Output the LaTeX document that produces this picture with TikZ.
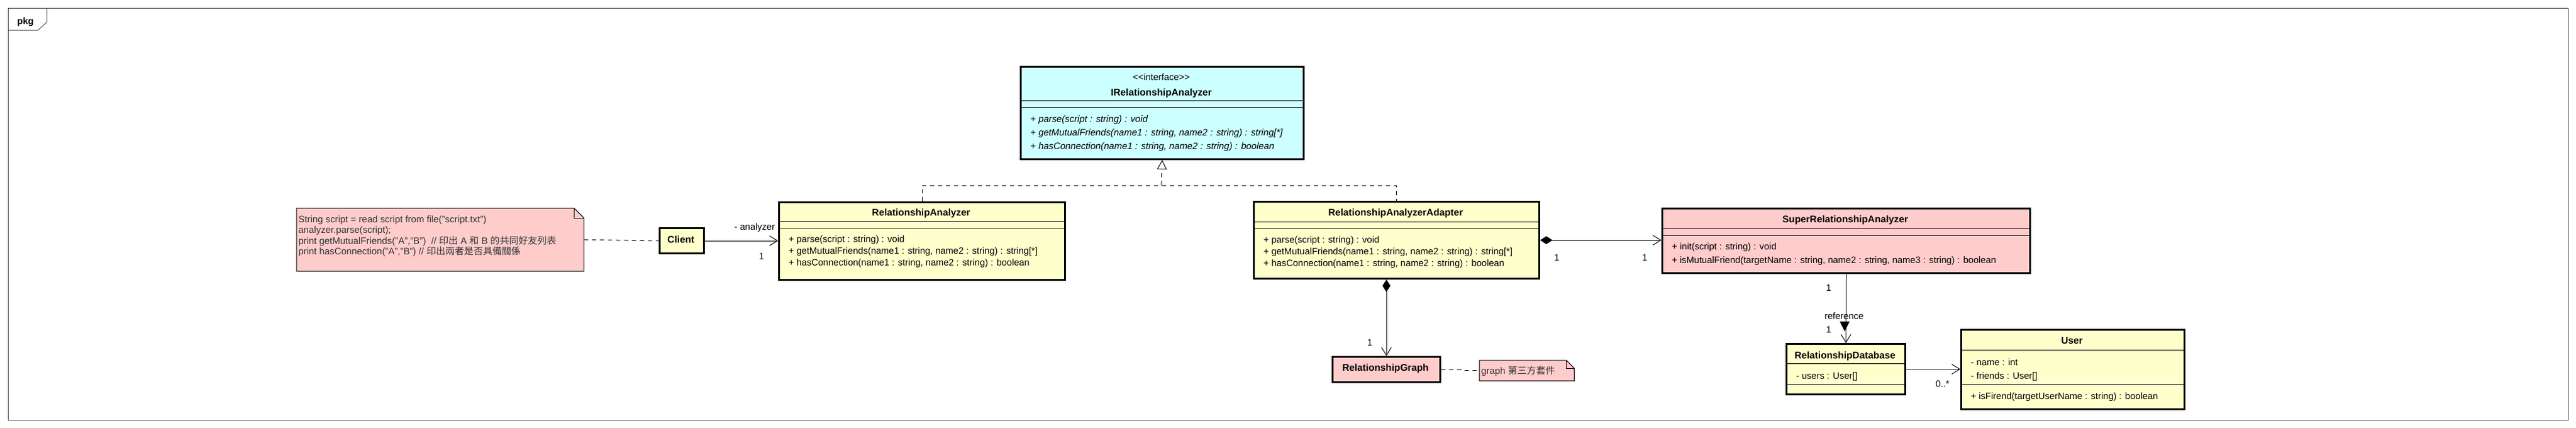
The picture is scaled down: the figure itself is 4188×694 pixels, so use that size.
\documentclass[tikz,border=0pt]{standalone}
\usepackage{fontspec}
\setmainfont{Liberation Sans}
\newfontfamily\cjk{Noto Sans CJK TC}
\usetikzlibrary{arrows.meta}
\definecolor{classyellow}{HTML}{FFFFCC}
\definecolor{ifacecyan}{HTML}{CCFFFF}
\definecolor{notepink}{HTML}{FFCCCC}
\definecolor{notetext}{HTML}{333333}
\definecolor{framegray}{HTML}{4D4D4D}
\tikzset{
  umlbox/.style={draw, line width=3pt, anchor=north west, inner sep=0pt},
  classname/.style={anchor=base, inner sep=0pt, font=\fontsize{15.7}{18}\selectfont\bfseries},
  stereo/.style={anchor=base, inner sep=0pt, font=\fontsize{15}{18}\selectfont},
  member/.style={anchor=base west, inner sep=0pt, font=\fontsize{15}{18}\selectfont},
  absmember/.style={anchor=base west, inner sep=0pt, font=\fontsize{15.2}{18}\selectfont\itshape},
  sepline/.style={line width=1pt},
  notebox/.style={anchor=north west, inner sep=0pt},
  notepath/.style={draw, fill=notepink, line width=1pt},
  notetxt/.style={anchor=base west, inner sep=0pt, text=notetext, font=\fontsize{15.3}{17}\selectfont},
  mult/.style={anchor=base, inner sep=0pt, font=\fontsize{15}{18}\selectfont},
  assoc/.style={line width=1pt, -{Straight Barb[length=13pt,width=16pt]}},
  compose/.style={line width=1pt, {Diamond[length=20pt,width=13pt]}-{Straight Barb[length=13pt,width=16pt]}},
  realize/.style={line width=1pt, dash pattern=on 7pt off 6pt},
  notelink/.style={line width=1pt, dash pattern=on 7pt off 6pt},
}
\begin{document}
\begin{tikzpicture}[x=1pt,y=-1pt]
  \useasboundingbox (0,0) rectangle (4188,694);
  \draw[framegray, line width=1pt] (13,13) rectangle (4175,682);
  \draw[framegray, line width=1pt] (13,49) -- (62,49) -- (76,36) -- (76,13);
  \node[anchor=base, inner sep=0pt, font=\fontsize{15}{18}\selectfont\bfseries] (pkg) at (41.5,39) {pkg};

  \node[umlbox, fill=ifacecyan, minimum width=460pt, minimum height=150pt] (IRA) at (1658,107) {};
  \draw[sepline] (1658,163) -- (2118,163) (1658,174) -- (2118,174);
  \node[stereo] (IRAst) at (1888,130) {{<}{<}interface{>}{>}};
  \node[classname] (IRAname) at (1888,155) {IRelationshipAnalyzer};
  \node[absmember] (IRAm1) at (1675,198) {+ parse(script : string) : void};
  \node[absmember] (IRAm2) at (1675,220) {+ getMutualFriends(name1 : string, name2 : string) : string[*]};
  \node[absmember] (IRAm3) at (1675,242) {+ hasConnection(name1 : string, name2 : string) : boolean};

  \node[umlbox, fill=classyellow, minimum width=465pt, minimum height=126pt] (RA) at (1265,327) {};
  \draw[sepline] (1265,359) -- (1730,359) (1265,370) -- (1730,370);
  \node[classname] (RAname) at (1497.5,350) {RelationshipAnalyzer};
  \node[member] (RAm1) at (1282,393) {+ parse(script : string) : void};
  \node[member] (RAm2) at (1282,412) {+ getMutualFriends(name1 : string, name2 : string) : string[*]};
  \node[member] (RAm3) at (1282,431) {+ hasConnection(name1 : string, name2 : string) : boolean};

  \node[umlbox, fill=classyellow, minimum width=464pt, minimum height=125pt] (RAA) at (2037,326) {};
  \draw[sepline] (2037,360) -- (2501,360) (2037,371) -- (2501,371);
  \node[classname] (RAAname) at (2269,350) {RelationshipAnalyzerAdapter};
  \node[member] (RAAm1) at (2054,394) {+ parse(script : string) : void};
  \node[member] (RAAm2) at (2054,413) {+ getMutualFriends(name1 : string, name2 : string) : string[*]};
  \node[member] (RAAm3) at (2054,432) {+ hasConnection(name1 : string, name2 : string) : boolean};

  \node[umlbox, fill=notepink, minimum width=598pt, minimum height=105pt] (SRA) at (2701,337) {};
  \draw[sepline] (2701,371) -- (3299,371) (2701,382) -- (3299,382);
  \node[classname] (SRAname) at (3000,361) {SuperRelationshipAnalyzer};
  \node[member] (SRAm1) at (2718,405) {+ init(script : string) : void};
  \node[member] (SRAm2) at (2718,427) {+ isMutualFriend(targetName : string, name2 : string, name3 : string) : boolean};

  \node[umlbox, fill=classyellow, minimum width=193pt, minimum height=82pt] (RD) at (2903,557) {};
  \draw[sepline] (2903,590) -- (3096,590) (2903,624) -- (3096,624);
  \node[classname] (RDname) at (2999.5,582) {RelationshipDatabase};
  \node[member] (RDa1) at (2920,615) {- users : User[]};

  \node[umlbox, fill=classyellow, minimum width=363pt, minimum height=129pt] (User) at (3187,534) {};
  \draw[sepline] (3187,568) -- (3550,568) (3187,624) -- (3550,624);
  \node[classname] (Username) at (3368.5,558) {User};
  \node[member] (Usera1) at (3204,593) {- name : int};
  \node[member] (Usera2) at (3204,615) {- friends : User[]};
  \node[member] (Userm1) at (3204,648) {+ isFirend(targetUserName : string) : boolean};

  \node[umlbox, fill=classyellow, minimum width=72pt, minimum height=41pt] (Client) at (1071,369) {};
  \node[classname] (Clientname) at (1107,394) {Client};

  \node[umlbox, fill=notepink, minimum width=175pt, minimum height=41pt] (RG) at (2165,578) {};
  \node[classname] (RGname) at (2252.5,602) {RelationshipGraph};

  \node[notebox, minimum width=467pt, minimum height=102pt] (note1) at (482,338) {};
  \draw[notepath] (note1.north west) -- ([xshift=-16pt]note1.north east) -- ([yshift=-16pt]note1.north east)
    -- (note1.south east) -- (note1.south west) -- cycle;
  \draw[line width=1pt] ([xshift=-16pt]note1.north east) |- ([yshift=-16pt]note1.north east);
  \node[notetxt] (note1l1) at (485,361) {String script = read script from file("script.txt")};
  \node[notetxt] (note1l2) at (485,378) {analyzer.parse(script);};
  \node[notetxt] (note1l3) at (485,396) {print getMutualFriends("A","B")\ \ // {\cjk 印出} A {\cjk 和} B {\cjk 的共同好友列表}};
  \node[notetxt] (note1l4) at (485,413) {print hasConnection("A","B") // {\cjk 印出兩者是否具備關係}};

  \node[notebox, minimum width=154pt, minimum height=33pt] (note2) at (2405,585) {};
  \draw[notepath] (note2.north west) -- ([xshift=-13pt]note2.north east) -- ([yshift=-13pt]note2.north east)
    -- (note2.south east) -- (note2.south west) -- cycle;
  \draw[line width=1pt] ([xshift=-13pt]note2.north east) |- ([yshift=-13pt]note2.north east);
  \node[notetxt] (note2l1) at (2408,607) {graph {\cjk 第三方套件}};

  \draw[notelink] (note1.east) -- (Client.west);
  \draw[assoc] (Client.east) -- (RA.west |- Client.east);
  \node[mult, anchor=base east] (analyzerlbl) at (1260,373) {- analyzer};
  \node[mult] (RAmult) at (1238,421) {1};

  \coordinate (rbar) at (1888,301);
  \draw[realize] (RA.north) |- (rbar) -| (RAA.north);
  \draw[realize, -{Triangle[open,length=15pt,width=16pt]}] (rbar) -- (IRA.south);

  \draw[compose] (RAA.east) -- (SRA.west |- RAA.east);
  \node[mult] (RAAmult) at (2531,423) {1};
  \node[mult] (SRAmult) at (2674,423) {1};

  \draw[compose] (RG.north |- RAA.south) -- (RG.north);
  \node[mult] (RGmult) at (2227,561) {1};

  \draw[assoc] (SRA.south) -- (RD.north);
  \node[mult] (SRAbot) at (2973,472) {1};
  \node[mult] (RDtop) at (2973,540) {1};
  \node[mult] (reflbl) at (2998,518) {reference};
  \fill (2991,522) -- (3007,522) -- (2999,538) -- cycle;

  \draw[assoc] (RD.east) -- (User.west |- RD.east);
  \node[mult] (Usermult) at (3158,628) {0..*};

  \draw[notelink] (RG.east) -- ++(33,0) -- ([xshift=-28pt]note2.west) -- (note2.west);
\end{tikzpicture}
\end{document}
